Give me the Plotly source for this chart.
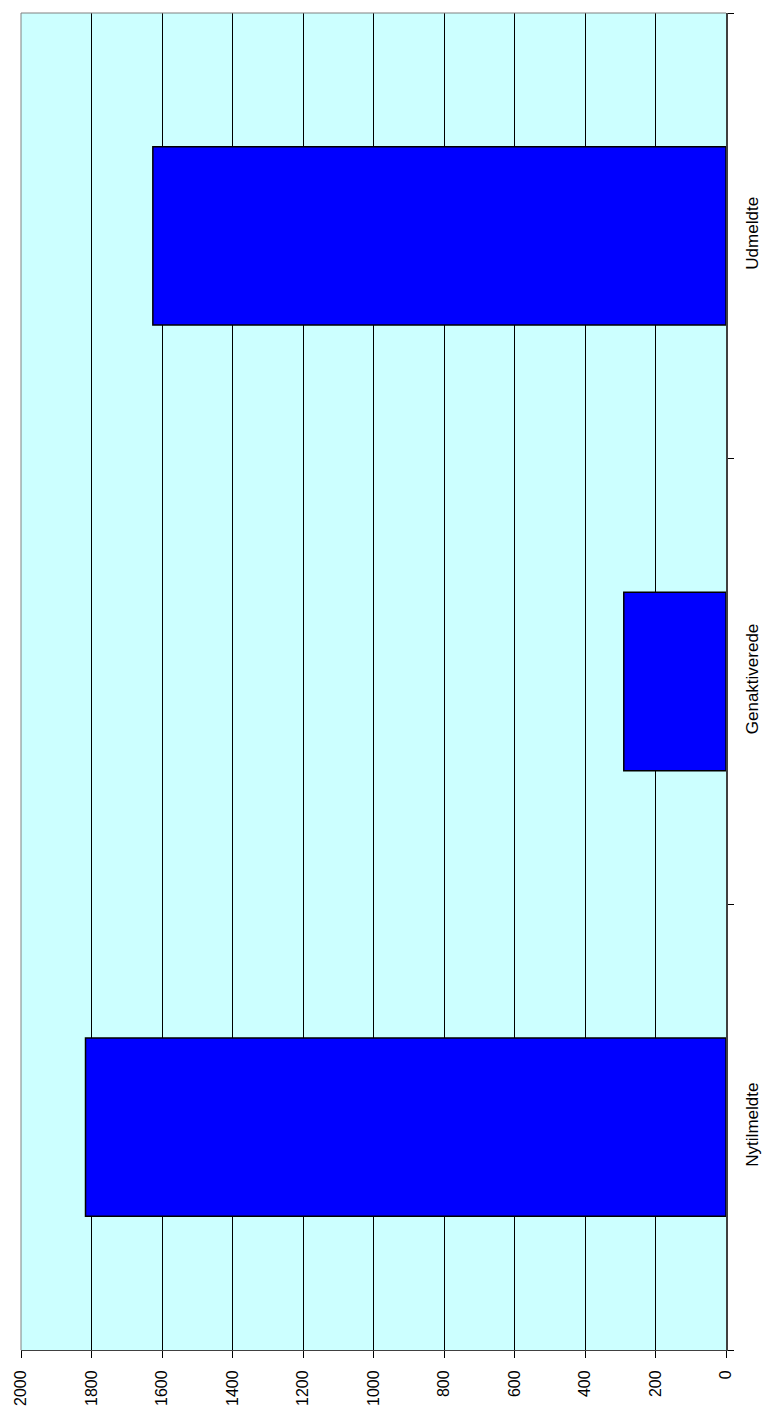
import plotly.graph_objects as go

categories = ["Nytilmeldte", "Genaktiverede", "Udmeldte"]
values = [1817, 290, 1626]
tick_values = [0, 200, 400, 600, 800, 1000, 1200, 1400, 1600, 1800, 2000]
tick_labels = ["0", "200", "400", "600", "800", "1000", "1200", "1400", "1600", "1800", "2000"]

fig = go.Figure()
fig.add_trace(go.Bar(
    x=values,
    y=categories,
    orientation="h",
    marker=dict(color="#0000FF", line=dict(color="#000000", width=1.5)),
    showlegend=False,
))

font_family = "Arial, Liberation Sans, sans-serif"

fig.update_layout(
    width=764,
    height=1413,
    margin=dict(l=21, r=38, t=13, b=63),
    paper_bgcolor="#FFFFFF",
    plot_bgcolor="#CCFFFF",
    bargap=0.6,
    font=dict(family=font_family, size=16, color="#000000"),
    xaxis=dict(
        range=[2000, 0],
        tickvals=tick_values,
        ticktext=tick_labels,
        tickangle=-90,
        showgrid=True,
        gridcolor="#000000",
        gridwidth=1,
        zeroline=False,
        showline=True,
        linecolor="#404040",
        linewidth=1,
        ticks="outside",
        ticklen=7,
        tickcolor="#000000",
        tickfont=dict(size=16),
        ticklabelstandoff=6,
        automargin=False,
    ),
    yaxis=dict(
        side="right",
        type="category",
        categoryorder="array",
        categoryarray=categories,
        tickangle=-90,
        showgrid=False,
        zeroline=False,
        showline=True,
        linecolor="#404040",
        linewidth=2,
        ticks="outside",
        tickson="boundaries",
        ticklen=6,
        tickcolor="#000000",
        tickfont=dict(size=17),
        ticklabelstandoff=10,
        automargin=False,
    ),
    shapes=[
        dict(type="line", xref="paper", yref="paper", x0=0, x1=0, y0=0, y1=1,
             line=dict(color="#808080", width=1)),
        dict(type="line", xref="paper", yref="paper", x0=0, x1=1, y0=1, y1=1,
             line=dict(color="#808080", width=1)),
    ],
)

fig.write_html("out.html")
